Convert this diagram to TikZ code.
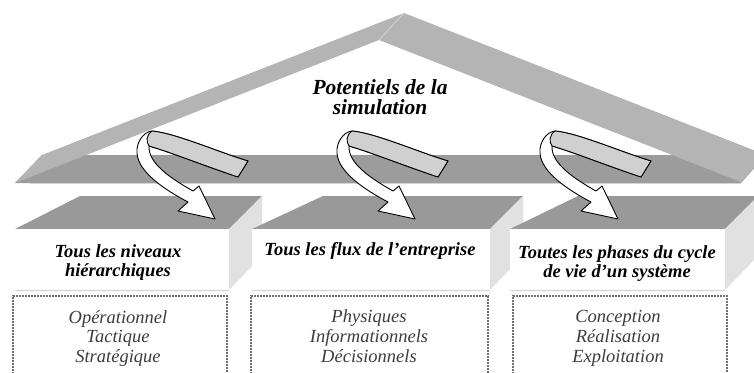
\documentclass[tikz,border=0pt]{standalone}
\usepackage{fontspec}
\setmainfont{Liberation Serif}
\definecolor{roofgray}{HTML}{B4B4B4}
\definecolor{beamgray}{HTML}{9C9C9C}
\definecolor{topgray}{HTML}{999999}
\definecolor{sidegray}{HTML}{E1E1E1}
\definecolor{backgray}{HTML}{D0D0D0}
\definecolor{edgegray}{HTML}{D4D4D4}
\definecolor{dashgray}{HTML}{6E6E6E}
\definecolor{itemgray}{HTML}{3C3C3C}
\tikzset{
  ribbon/.style={draw=black, line width=0.9pt, line join=round},
  rooftitle/.style={anchor=base, inner sep=0pt, font=\fontsize{21.5}{21.5}\selectfont\bfseries\itshape},
  boxtitle/.style={anchor=base, inner sep=0pt, font=\fontsize{18.5}{18.5}\selectfont\bfseries\itshape},
  itemtext/.style={anchor=base, inner sep=0pt, text=itemgray, font=\fontsize{18.5}{18.5}\selectfont\itshape},
  listbox/.style={draw=dashgray, line width=1.6pt, dash pattern=on 1.8pt off 1.2pt},
  % curled ribbon arrow: grey back face, white front face ending in a head
  curl/.pic={
    \draw[ribbon, fill=white] (248,161) .. controls (218,152) and (175,133) .. (152,131)
      .. controls (143,132) and (136,143) .. (137,153)
      .. controls (138,172) and (165,190) .. (188,202)
      -- (178,211) -- (215,219) -- (199,186) -- (193,191)
      .. controls (170,178) and (148,163) .. (149,146)
      .. controls (170,152) and (205,166) .. (238,177) -- cycle;
    \draw[ribbon, fill=backgray] (248,161) .. controls (218,152) and (175,133) .. (152,131)
      .. controls (146,135) and (146,142) .. (149,146)
      .. controls (170,152) and (205,166) .. (238,177) -- cycle;
  }
}
\begin{document}
\begin{tikzpicture}[x=1pt, y=-1pt]
\useasboundingbox (0,0) rectangle (754,372);
\clip (0,0) rectangle (754,372);

% beam under the roof
\fill[beamgray] (15,183) -- (42,155) -- (766,155) -- (741,183) -- cycle;
\draw[edgegray, line width=1.2pt] (30,183.6) -- (741,183.6);

% roof legs
\fill[roofgray] (15,183) -- (42,155) -- (404,13) -- (379,40) -- cycle;
\fill[roofgray] (379,40) -- (404,13) -- (766,155) -- (741,182) -- cycle;
\draw[edgegray, line width=0.8pt] (404,13) -- (379,40);

\node[rooftitle] (title1) at (380,94) {Potentiels de la};
\node[rooftitle] (title2) at (380,114) {simulation};

% three blocks: top face, side face, front face
\foreach \xa/\xb/\xc/\xd in {15/80/229/262, 252/323/490/523, 510/578/725/758}{
  \fill[topgray] (\xa,229) -- (\xb,196) -- (\xd,196) -- (\xc,229) -- cycle;
  \fill[sidegray] (\xc,229) -- (\xd,196) -- (\xd,256) -- (\xc,290) -- cycle;
  \fill[white] (\xa,229) rectangle (\xc,290);
  \draw[edgegray, line width=0.8pt] (\xa,290) -- (\xc,290);
}

\node[boxtitle] (lvl1) at (118,257) {Tous les niveaux};
\node[boxtitle] (lvl2) at (118,276) {hiérarchiques};
\node[boxtitle] (flux) at (370,255) {Tous les flux de l’entreprise};
\node[boxtitle] (phase1) at (617,258) {Toutes les phases du cycle};
\node[boxtitle] (phase2) at (617,277) {de vie d’un système};

% dashed lists below the blocks
\draw[listbox] (13,380) -- (13,296) -- (227,296) -- (227,380);
\draw[listbox] (251,380) -- (251,296) -- (488,296) -- (488,380);
\draw[listbox] (513,380) -- (513,296) -- (727,296) -- (727,380);

\node[itemtext] (op)   at (118,323) {Opérationnel};
\node[itemtext] (tac)  at (118,342) {Tactique};
\node[itemtext] (str)  at (118,362) {Stratégique};
\node[itemtext] (phy)  at (369,322) {Physiques};
\node[itemtext] (inf)  at (369,342) {Informationnels};
\node[itemtext] (dec)  at (369,362) {Décisionnels};
\node[itemtext] (conc) at (618,322) {Conception};
\node[itemtext] (real) at (618,342) {Réalisation};
\node[itemtext] (expl) at (618,362) {Exploitation};

% curled arrows from the roof down onto each block
\pic at (0,0) {curl};
\pic at (200,0) {curl};
\pic at (403,0) {curl};
\end{tikzpicture}
\end{document}
